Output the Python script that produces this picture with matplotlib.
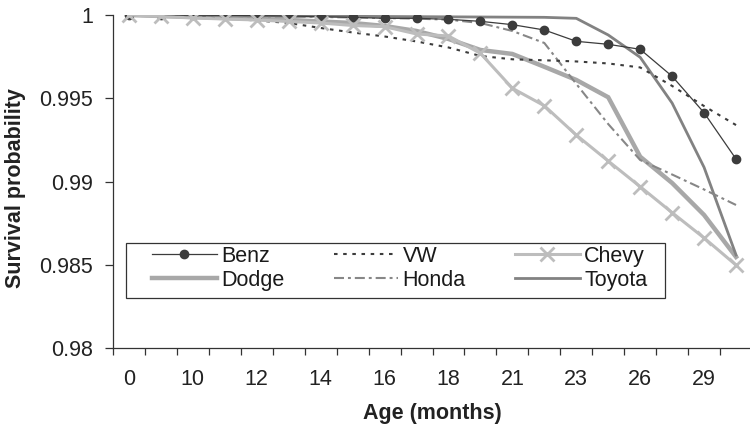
import matplotlib
matplotlib.use("Agg")
import matplotlib.pyplot as plt
from matplotlib.patches import Rectangle
from matplotlib.ticker import FixedLocator, NullFormatter, FixedFormatter

# ---- data ----
ages = [0, 8, 10, 11, 12, 13, 14, 15, 16, 17, 18, 20, 21, 22, 23, 24, 26, 27, 29, 30]

benz = [1.0, 1.0, 0.99999, 0.99998, 0.99996, 0.99994, 0.9999, 0.99986, 0.9998, 0.9998,
        0.99974, 0.99962, 0.99942, 0.9991, 0.99842, 0.99824, 0.99794, 0.99632, 0.99413, 0.99135]
vw = [1.0, 0.99994, 0.99988, 0.99979, 0.99967, 0.99952, 0.99922, 0.99895, 0.99871, 0.99841,
      0.99805, 0.99754, 0.99734, 0.99728, 0.99721, 0.99709, 0.99685, 0.99574, 0.99453, 0.99339]
chevy = [1.0, 0.99991, 0.99982, 0.99976, 0.9997, 0.99961, 0.99952, 0.99937, 0.9993, 0.99886,
         0.99874, 0.9977, 0.9956, 0.99455, 0.99279, 0.99123, 0.98969, 0.98813, 0.98661, 0.98498]
dodge = [1.0, 0.99994, 0.99988, 0.99982, 0.99976, 0.9997, 0.99961, 0.99952, 0.99934, 0.99904,
         0.99856, 0.9979, 0.99766, 0.99689, 0.9961, 0.99506, 0.99149, 0.98991, 0.98799, 0.98547]
honda = [1.0, 0.99998, 0.99996, 0.99994, 0.99992, 0.9999, 0.99988, 0.99985, 0.99982, 0.99978,
         0.99972, 0.99952, 0.99904, 0.99832, 0.99586, 0.99345, 0.99129, 0.99042, 0.98952, 0.98859]
toyota = [1.0, 0.99998, 0.99997, 0.99996, 0.99995, 0.99994, 0.99993, 0.99992, 0.99991, 0.9999,
          0.99989, 0.99988, 0.99987, 0.99986, 0.9998, 0.9988, 0.99746, 0.99471, 0.99085, 0.98559]

yticks = [0.98, 0.985, 0.99, 0.995, 1.0]
ytick_labels = ["0.98", "0.985", "0.99", "0.995", "1"]

# ---- figure ----
plt.rcParams['font.family'] = ['Liberation Sans', 'DejaVu Sans']
FS = 15.5
fig = plt.figure(figsize=(7.5, 4.29), dpi=100)
ax = fig.add_axes([113/750, 81/429, 639/750, 333/429])

x = list(range(len(ages)))
dark = "#3c3c3c"

ax.plot(x, dodge, color="#a8a8a8", lw=3.2, solid_joinstyle="miter", label="Dodge", zorder=2)
ax.plot(x, toyota, color="#828282", lw=2.0, label="Toyota", zorder=3)
ax.plot(x, honda, color="#878787", lw=1.5, linestyle=(0, (4.8, 1.9, 1.4, 1.9)), label="Honda", zorder=3)
ax.plot(x, vw, color=dark, lw=1.5, linestyle=(0, (1.7, 2.7)), label="VW", zorder=4)
ax.plot(x, benz, color=dark, lw=0.9, marker="o", markersize=6, label="Benz", zorder=5)
ax.plot(x, chevy, color="#bdbdbd", lw=2.2, marker="x", markersize=9.5, mew=2.0, label="Chevy", zorder=6)

ax.set_xlim(-0.5, len(ages) - 0.5)
ax.set_ylim(0.98, 1.0)

# y axis
ax.set_yticks(yticks)
ax.set_yticklabels(ytick_labels)
ax.tick_params(axis="y", direction="out", length=5.8, width=0.9, color="#333333",
               pad=8.5, labelsize=FS, labelcolor="#222222")

# x axis: ticks at category boundaries, labels every other category
ax.xaxis.set_major_locator(FixedLocator([i - 0.5 for i in range(len(ages) + 1)]))
ax.xaxis.set_major_formatter(NullFormatter())
ax.xaxis.set_minor_locator(FixedLocator(x[::2]))
ax.xaxis.set_minor_formatter(FixedFormatter([str(a) for a in ages[::2]]))
ax.tick_params(axis="x", which="major", direction="out", length=5.2, width=0.9, color="#333333")
ax.tick_params(axis="x", which="minor", length=0, pad=15.0, labelsize=FS, labelcolor="#222222")

for s in ["top", "right"]:
    ax.spines[s].set_visible(False)
for s in ["left", "bottom"]:
    ax.spines[s].set_color("#333333")
    ax.spines[s].set_linewidth(0.9)

ax.set_ylabel("Survival probability", fontsize=FS, fontweight="bold", color="#222222")
ax.yaxis.set_label_coords(-0.136, 0.479)
ax.set_xlabel("Age (months)", fontsize=FS, fontweight="bold", color="#222222", va="top")
ax.xaxis.set_label_coords(0.5, -0.165)

# legend
h, l = ax.get_legend_handles_labels()
order = ["Benz", "Dodge", "VW", "Honda", "Chevy", "Toyota"]
hd = dict(zip(l, h))
leg = fig.legend([hd[k] for k in order], order, loc="upper left",
                 bbox_to_anchor=(152/750, 1 - 246/429), ncol=3, frameon=False,
                 borderpad=0, handlelength=3.0, handletextpad=0.2,
                 columnspacing=2.3, labelspacing=0.12, fontsize=FS, borderaxespad=0)
for t in leg.get_texts():
    t.set_color("#1a1a1a")
fig.add_artist(Rectangle((126/750, 1 - 298/429), 539/750, 55/429, transform=fig.transFigure,
                         facecolor="white", edgecolor="#333333", lw=0.9, zorder=0.5))
leg.set_zorder(10)

fig.savefig("out.png", dpi=100)
